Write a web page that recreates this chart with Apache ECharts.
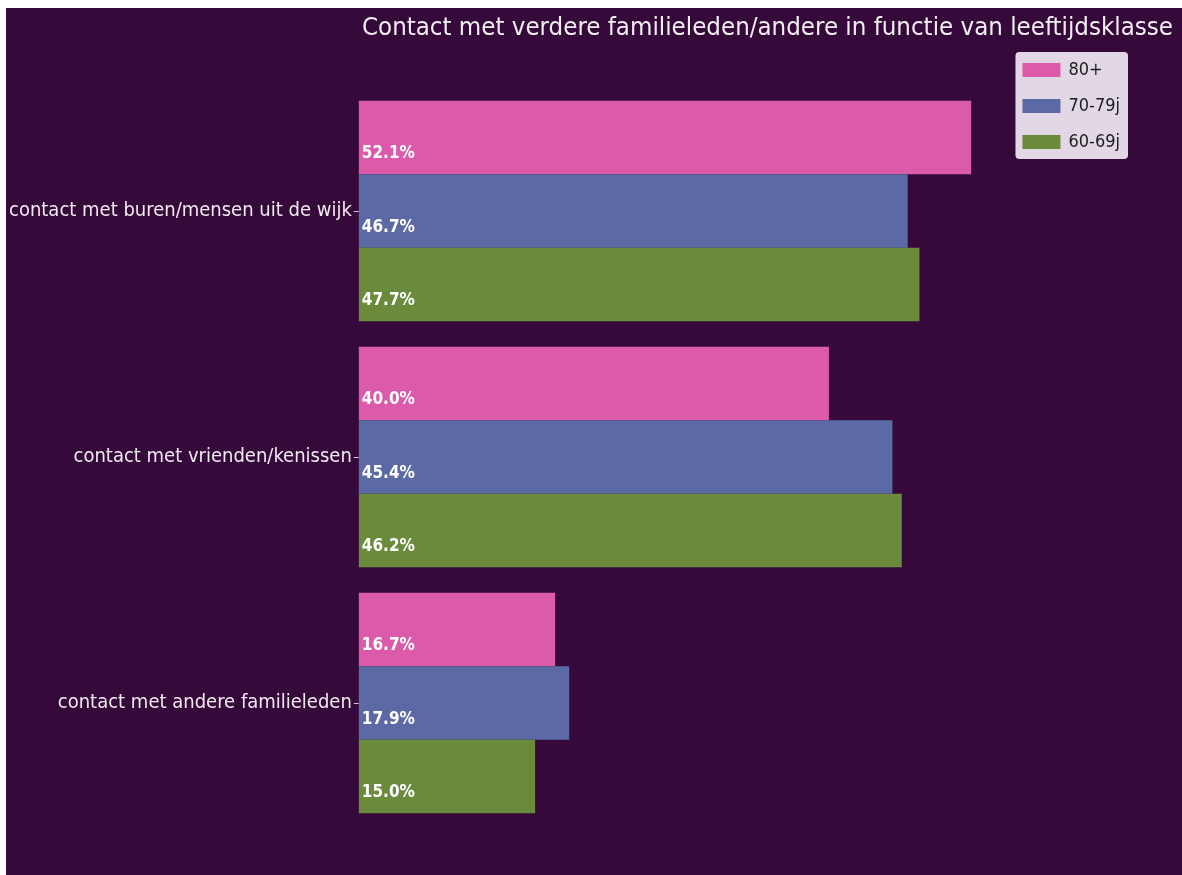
<!DOCTYPE html>
<html><head><meta charset="utf-8">
<script src="https://cdn.jsdelivr.net/npm/echarts@6/dist/echarts.min.js"></script>
<style>html,body{margin:0;padding:0;background:#fff;}#c{position:absolute;left:6px;top:8px;width:1176px;height:867px;}</style>
</head><body><div id="c"></div>
<script>
const categories = ['contact met buren/mensen uit de wijk', 'contact met vrienden/kenissen', 'contact met andere familieleden'];
const seriesNames = ['80+', '70-79j', '60-69j'];
const v80 = [52.1, 40.0, 16.7];
const v70 = [46.7, 45.4, 17.9];
const v60 = [47.7, 46.2, 15.0];
const colors = ['#dc5aaa', '#5b6aa5', '#6a8a3c'];
const titleText = 'Contact met verdere familieleden/andere in functie van leeftijdsklasse';

const FONT = 'DejaVu Sans Condensed, DejaVu Sans, sans-serif';
const chart = echarts.init(document.getElementById('c'));
const vals = [v80, v70, v60];
chart.setOption({
  backgroundColor: '#350a3a',
  animation: false,
  title: { text: titleText, right: 4, top: 2, textStyle: { color: '#f2eef2', fontSize: 25.6, fontWeight: 'normal', fontFamily: FONT } },
  legend: {
    right: 54, top: 44, orient: 'vertical', itemWidth: 38, itemHeight: 14, itemGap: 18, icon: 'rect',
    backgroundColor: 'rgba(240,232,242,0.93)', borderRadius: 4, padding: [9, 8, 8, 7],
    textStyle: { color: '#1c1c1c', fontSize: 18, fontFamily: FONT, padding: [0, 0, 0, 3] },
    data: seriesNames
  },
  grid: { left: 352, top: 80, width: 706, height: 738, containLabel: false },
  xAxis: { type: 'value', min: 0, max: 60, show: false },
  yAxis: {
    type: 'category', data: categories, inverse: true,
    axisLine: { show: false },
    axisTick: { show: true, length: 5, lineStyle: { color: '#cccccc' }, alignWithLabel: true },
    axisLabel: { color: '#f0eaf0', fontSize: 20, fontFamily: FONT, margin: 7, padding: [6, 0, 0, 0] }
  },
  series: seriesNames.map((n, i) => ({
    name: n, type: 'bar', data: vals[i], barGap: '0%', barCategoryGap: '10.4%',
    itemStyle: { color: colors[i] },
    label: { show: true, position: [3, '72%'], verticalAlign: 'middle', formatter: p => p.value.toFixed(1) + '%', color: '#ffffff', fontWeight: 'bold', fontSize: 17, fontFamily: FONT }
  }))
});
</script></body></html>
